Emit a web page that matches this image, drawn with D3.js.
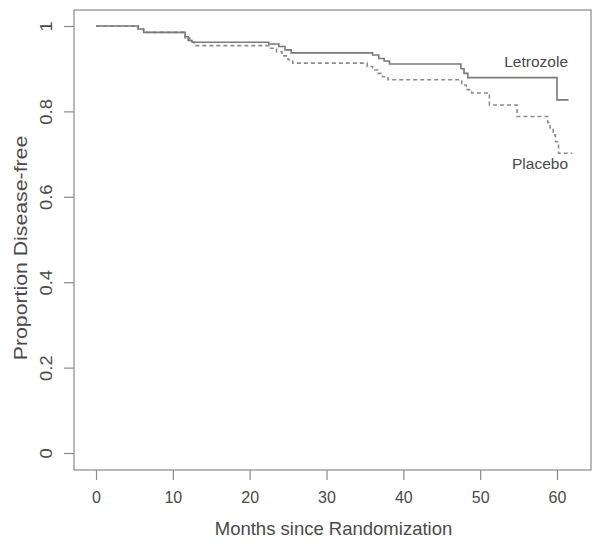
<!DOCTYPE html>
<html>
<head>
<meta charset="utf-8">
<script src="https://cdn.jsdelivr.net/npm/d3@7"></script>
<style>
  body { margin: 0; background: #fff; }
  svg text { font-family: "Liberation Sans", Arial, sans-serif; fill: #4a4a4a; }
</style>
</head>
<body>
<svg width="602" height="544"></svg>
<script>
// Kaplan-Meier step points (months, proportion disease-free)
const letrozoleTimes = [0, 5.5, 6.2, 11.6, 12.0, 12.5, 22.5, 23.8, 24.6, 25.4, 36.0, 36.8, 37.5, 38.2, 47.5, 47.9, 48.4, 60.0, 61.5];
const letrozoleSurv  = [1.0, 0.993, 0.985, 0.975, 0.966, 0.962, 0.958, 0.952, 0.944, 0.937, 0.932, 0.924, 0.918, 0.911, 0.900, 0.889, 0.879, 0.827, 0.827];

const placeboTimes = [0, 5.5, 6.2, 11.6, 12.2, 12.8, 22.5, 23.5, 24.2, 25.0, 25.6, 35.3, 36.0, 36.7, 37.3, 38.0, 47.6, 48.2, 48.9, 51.2, 54.8, 58.8, 59.1, 59.5, 59.8, 60.2, 62.0];
const placeboSurv  = [1.0, 0.993, 0.985, 0.972, 0.962, 0.954, 0.948, 0.940, 0.930, 0.921, 0.913, 0.905, 0.897, 0.889, 0.881, 0.874, 0.862, 0.851, 0.843, 0.815, 0.788, 0.774, 0.761, 0.745, 0.729, 0.702, 0.702];

const xTicks = [0, 10, 20, 30, 40, 50, 60];
const yTicks = [0, 0.2, 0.4, 0.6, 0.8, 1];
const yTickLabels = ['0', '0.2', '0.4', '0.6', '0.8', '1'];

const svg = d3.select('svg');
const box = { left: 74, right: 591, top: 10, bottom: 470 };
const grey = '#8a8a8a';

const xScale = d3.scaleLinear().domain([0, 60]).range([96, 557]);
const yScale = d3.scaleLinear().domain([0, 1]).range([453, 26]);

// frame
svg.append('rect')
  .attr('x', box.left).attr('y', box.top)
  .attr('width', box.right - box.left).attr('height', box.bottom - box.top)
  .attr('fill', 'none').attr('stroke', grey).attr('stroke-width', 1.2);

// x axis
const xAxisG = svg.append('g')
  .attr('transform', `translate(0, ${box.bottom})`)
  .call(d3.axisBottom(xScale).tickValues(xTicks).tickSize(10).tickPadding(12));
xAxisG.select('.domain').remove();
xAxisG.selectAll('.tick line').attr('stroke', grey).attr('stroke-width', 1.2);
xAxisG.selectAll('.tick text')
  .attr('font-size', 16).attr('fill', '#555');

// y axis (labels rotated like base R)
const yAxisG = svg.append('g')
  .attr('transform', `translate(${box.left}, 0)`)
  .call(d3.axisLeft(yScale).tickValues(yTicks).tickSize(10).tickFormat((d, i) => yTickLabels[i]));
yAxisG.select('.domain').remove();
yAxisG.selectAll('.tick line').attr('stroke', grey).attr('stroke-width', 1.2);
yAxisG.selectAll('.tick text')
  .attr('x', null).attr('dy', null)
  .attr('font-size', 16).attr('fill', '#555')
  .attr('text-anchor', 'middle')
  .attr('transform', 'translate(-22, 0) rotate(-90) scale(1.15, 1)');

// axis titles
svg.append('text')
  .attr('x', (xScale(0) + xScale(60)) / 2 + 7)
  .attr('y', 535)
  .attr('text-anchor', 'middle')
  .attr('font-size', 18.5)
  .text('Months since Randomization');

svg.append('text')
  .attr('text-anchor', 'middle')
  .attr('font-size', 18.5)
  .attr('transform', `translate(27, ${(box.top + box.bottom) / 2 + 8}) rotate(-90) scale(1.15, 1)`)
  .text('Proportion Disease-free');

// survival curves
const line = d3.line()
  .x(d => xScale(d[0]))
  .y(d => yScale(d[1]))
  .curve(d3.curveStepAfter);

svg.append('path')
  .datum(d3.zip(placeboTimes, placeboSurv))
  .attr('d', line)
  .attr('fill', 'none')
  .attr('stroke', '#8c8c8c')
  .attr('stroke-width', 1.6)
  .attr('stroke-dasharray', '4,3');

svg.append('path')
  .datum(d3.zip(letrozoleTimes, letrozoleSurv))
  .attr('d', line)
  .attr('fill', 'none')
  .attr('stroke', '#7a7a7a')
  .attr('stroke-width', 1.6);

// curve labels
svg.append('text')
  .attr('x', 568).attr('y', 67)
  .attr('text-anchor', 'end')
  .attr('font-size', 15.5)
  .text('Letrozole');

svg.append('text')
  .attr('x', 568).attr('y', 169)
  .attr('text-anchor', 'end')
  .attr('font-size', 15.5)
  .text('Placebo');
</script>
</body>
</html>
